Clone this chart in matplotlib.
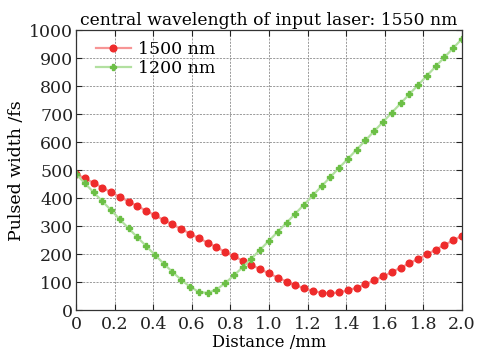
import matplotlib

matplotlib.use("Agg")

import matplotlib.pyplot as plt
import numpy as np

# distance along the fibre (mm), 45 samples
distance_mm = np.linspace(0.0, 2.0, 45)

width_1500 = [
    487, 471, 455, 438, 421, 405, 388, 372, 355, 339,
    322, 306, 290, 273, 257, 241, 225, 208, 192, 177,
    161, 146, 131, 116, 102, 89, 78, 68, 62, 60,
    63, 70, 80, 92, 106, 120, 136, 151, 167, 183,
    199, 216, 233, 249, 266,
]

width_1200 = [
    486, 454, 421, 389, 357, 324, 292, 260, 229, 197,
    166, 136, 108, 83, 65, 61, 73, 96, 124, 153,
    184, 216, 248, 280, 312, 345, 377, 410, 443, 476,
    509, 541, 574, 607, 640, 673, 706, 739, 772, 805,
    838, 871, 904, 937, 970,
]

labels = ["1500 nm", "1200 nm"]
x_ticks = [0, 0.2, 0.4, 0.6, 0.8, 1.0, 1.2, 1.4, 1.6, 1.8, 2.0]
x_tick_labels = ["0", "0.2", "0.4", "0.6", "0.8", "1.0", "1.2", "1.4", "1.6", "1.8", "2.0"]
y_ticks = list(range(0, 1001, 100))

plt.rcParams["font.family"] = ["DejaVu Serif"]

fig = plt.figure(figsize=(4.78, 3.58), dpi=100)
ax = fig.add_axes([0.159, 0.134, 0.8075, 0.781])

ax.plot(
    distance_mm, width_1500,
    color="#f79595", linewidth=1.6,
    marker="o", markersize=4.8, markerfacecolor="#ee2b2b", markeredgecolor="#ee2b2b",
    label=labels[0],
)
ax.plot(
    distance_mm, width_1200,
    color="#b2e0a0", linewidth=1.6,
    marker="P", markersize=5, markerfacecolor="#6cbf46", markeredgecolor="#6cbf46",
    label=labels[1],
)

ax.set_xlim(0, 2.0)
ax.set_ylim(0, 1000)
ax.set_xticks(x_ticks)
ax.set_xticklabels(x_tick_labels)
ax.set_yticks(y_ticks)

ax.tick_params(direction="in", top=True, right=True, length=4, width=0.8,
               labelsize=12.5, colors="#222222")
ax.tick_params(axis="x", pad=4)
ax.tick_params(axis="y", pad=2)
ax.grid(True, color="#8a8a8a", linestyle=(0, (2.5, 1.5)), linewidth=0.6)
for sp in ax.spines.values():
    sp.set_color("#333333")
    sp.set_linewidth(0.9)

ax.set_title("central wavelength of input laser: 1550 nm", fontsize=12.3, pad=4)
ax.set_xlabel("Distance /mm", fontsize=11.8, labelpad=1)
ax.set_ylabel("Pulsed width /fs", fontsize=12.5, labelpad=3)

ax.legend(loc="upper left", bbox_to_anchor=(0.025, 1.0), frameon=False,
          fontsize=12.5, handlelength=2.0, handletextpad=0.4,
          borderaxespad=0.2, labelspacing=0.1)

fig.savefig("out.png", dpi=100)
plt.close(fig)
